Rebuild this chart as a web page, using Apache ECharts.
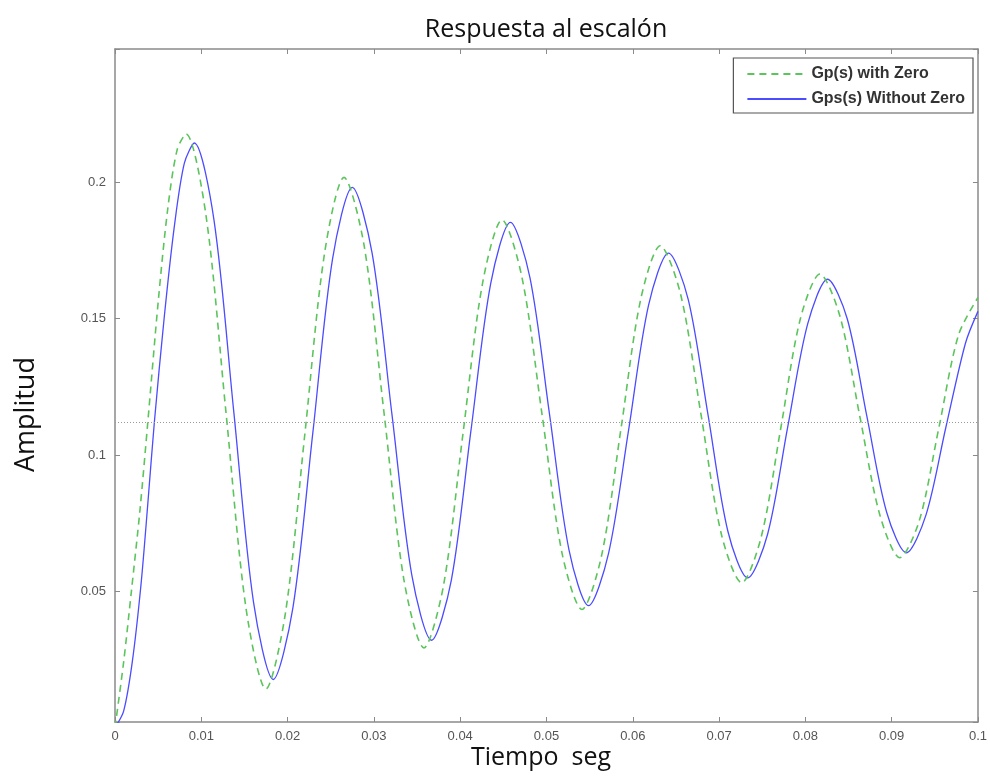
<!DOCTYPE html>
<html>
<head>
<meta charset="utf-8">
<script src="https://cdn.jsdelivr.net/npm/echarts@6/dist/echarts.min.js"></script>
<style>
html,body{margin:0;padding:0;background:#fff;}
#chart{width:990px;height:778px;}
</style>
</head>
<body>
<div id="chart"></div>
<script>
// ---- data ----
const TITLE = 'Respuesta al escalón';
const X_NAME = 'Tiempo  seg';
const Y_NAME = 'Amplitud';
const SERIES_NAMES = ['Gp(s) with Zero', 'Gps(s) Without Zero'];
const X_RANGE = [0, 0.1];
const Y_RANGE = [0.002, 0.249];
const FINAL_VALUE = [0.112];

const tGreen = [0, 0.001, 0.0019, 0.0029, 0.0038, 0.0050, 0.0061, 0.0072, 0.00823,
  0.01054, 0.01285, 0.01517, 0.01748,
  0.01975, 0.02201, 0.02428, 0.02654,
  0.02886, 0.03117, 0.03349, 0.0358,
  0.03806, 0.04033, 0.04259, 0.04485,
  0.04717, 0.04948, 0.0518, 0.05411,
  0.05638, 0.05865, 0.06091, 0.06318,
  0.06554, 0.0679, 0.07026, 0.07262,
  0.07489, 0.07716, 0.07942, 0.08169,
  0.084, 0.08632, 0.08863, 0.09094,
  0.09321, 0.09547, 0.09774, 0.1];
const vGreen = [0, 0.024, 0.05, 0.080, 0.112, 0.156, 0.190, 0.212, 0.2178,
  0.188, 0.116, 0.044, 0.0141,
  0.042, 0.108, 0.174, 0.2019,
  0.177, 0.1156, 0.054, 0.0292,
  0.052, 0.108, 0.163, 0.1863,
  0.165, 0.115, 0.064, 0.0433,
  0.063, 0.110, 0.157, 0.1768,
  0.159, 0.115, 0.071, 0.0531,
  0.070, 0.110, 0.150, 0.1664,
  0.151, 0.114, 0.078, 0.0623,
  0.076, 0.110, 0.144, 0.1578];

const tBlue = [0, 0.001, 0.002, 0.003, 0.0038, 0.00456, 0.00572, 0.00688, 0.00803, 0.00919,
  0.01148, 0.01376, 0.01605, 0.01833,
  0.02062, 0.02292, 0.02521, 0.0275,
  0.0298, 0.03209, 0.03439, 0.03668,
  0.03897, 0.04125, 0.04354, 0.04582,
  0.04809, 0.05035, 0.05262, 0.05488,
  0.0572, 0.05951, 0.06183, 0.06414,
  0.06643, 0.06873, 0.07102, 0.07331,
  0.07563, 0.07794, 0.08026, 0.08257,
  0.08485, 0.08714, 0.08942, 0.0917,
  0.09398, 0.09627, 0.09855, 0.1];
const vBlue = [0, 0.006, 0.024, 0.052, 0.082, 0.112, 0.151, 0.184, 0.207, 0.2145,
  0.186, 0.116, 0.046, 0.0176,
  0.044, 0.108, 0.172, 0.1982,
  0.174, 0.115, 0.056, 0.0320,
  0.054, 0.109, 0.163, 0.1854,
  0.165, 0.115, 0.065, 0.0447,
  0.064, 0.109, 0.155, 0.1741,
  0.157, 0.1145, 0.072, 0.0549,
  0.071, 0.110, 0.148, 0.1645,
  0.150, 0.114, 0.079, 0.0641,
  0.078, 0.110, 0.141, 0.1527];

// ---- chart ----
const zip = (a, b) => a.map((t, i) => [t, b[i]]);
const FONT = 'Liberation Sans, Arial, sans-serif';
const AXIS_COLOR = '#8a8a8a';
const LABEL_COLOR = '#555';

const chart = echarts.init(document.getElementById('chart'), null, {renderer: 'canvas'});

function xAx(pos, showLabel) {
  return {
    type: 'value', position: pos, min: X_RANGE[0], max: X_RANGE[1], interval: 0.01,
    axisLine: {show: true, onZero: false, lineStyle: {color: AXIS_COLOR, width: 1.5}},
    axisTick: {show: true, inside: true, length: 5, lineStyle: {color: AXIS_COLOR}},
    axisLabel: {show: showLabel, color: LABEL_COLOR, fontFamily: FONT, fontSize: 13, margin: 8,
      formatter: v => String(+v.toFixed(4))},
    splitLine: {show: false}
  };
}
function yAx(pos, showLabel) {
  return {
    type: 'value', position: pos, min: Y_RANGE[0], max: Y_RANGE[1],
    axisLine: {show: true, onZero: false, lineStyle: {color: AXIS_COLOR, width: 1.5}},
    axisTick: {show: true, inside: true, length: 5, lineStyle: {color: AXIS_COLOR}},
    axisLabel: {show: showLabel, color: LABEL_COLOR, fontFamily: FONT, fontSize: 13, margin: 9,
      showMinLabel: true, showMaxLabel: true,
      formatter: v => {
        const k = v / 0.05;
        return Math.abs(k - Math.round(k)) < 1e-6 ? String(+v.toFixed(3)) : '';
      }},
    splitLine: {show: false}
  };
}

chart.setOption({
  animation: false,
  backgroundColor: '#fff',
  title: {
    text: TITLE, left: 541, top: 12, textAlign: 'center',
    textStyle: {fontFamily: 'Open Sans, Noto Sans, sans-serif', fontSize: 25, fontWeight: 'normal', color: '#111'}
  },
  grid: {left: 115, right: 10, top: 49, bottom: 56, containLabel: false},
  xAxis: [xAx('bottom', true), xAx('top', false)],
  yAxis: [yAx('left', true), yAx('right', false)],
  legend: {
    orient: 'vertical', right: 17, top: 58,
    backgroundColor: '#fff', borderColor: '#555', borderWidth: 1.2,
    padding: [8, 8, 6, 13], itemGap: 9, itemWidth: 59, itemHeight: 12,
    itemStyle: {opacity: 0},
    textStyle: {fontFamily: FONT, fontSize: 16, color: '#333', fontWeight: 'bold'},
    data: SERIES_NAMES
  },
  graphic: [
    {type: 'text', left: 471, top: 745,
      style: {text: X_NAME, font: '25px "Open Sans", "Noto Sans", sans-serif', fill: '#111'}},
    {type: 'text', x: 13, y: 472, rotation: Math.PI / 2,
      style: {text: Y_NAME, font: '27px "Open Sans", "Noto Sans", sans-serif', fill: '#111'}}
  ],
  series: [
    {
      name: SERIES_NAMES[0], type: 'line', data: zip(tGreen, vGreen),
      smooth: 0.3, symbol: 'none', clip: true,
      lineStyle: {color: '#5cc45c', width: 1.6, type: [7, 5]},
      itemStyle: {color: '#5cc45c'},
      markLine: {
        silent: true, symbol: 'none', label: {show: false}, precision: 4,
        lineStyle: {color: '#9a9a9a', type: [1, 2], width: 1},
        data: [{yAxis: FINAL_VALUE[0]}]
      },
      z: 3
    },
    {
      name: SERIES_NAMES[1], type: 'line', data: zip(tBlue, vBlue),
      smooth: 0.3, symbol: 'none', clip: true,
      lineStyle: {color: '#4b4bff', width: 1.3, type: 'solid'},
      itemStyle: {color: '#4b4bff'},
      z: 2
    }
  ]
});
</script>
</body>
</html>
